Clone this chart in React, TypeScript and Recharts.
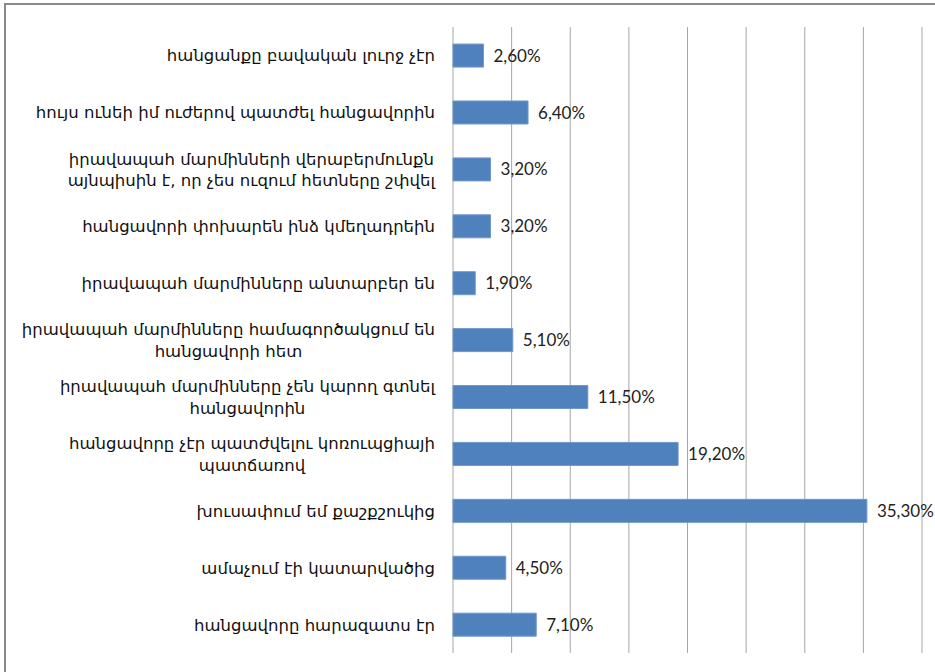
import { BarChart, Bar, XAxis, YAxis, CartesianGrid, LabelList } from 'recharts';

// reasons, top to bottom; "\n" marks where the original label wraps
const reasons = [
  'հանցանքը բավական լուրջ չէր',
  'հույս ունեի իմ ուժերով պատժել հանցավորին',
  'իրավապահ մարմինների վերաբերմունքն\nայնպիսին է, որ չես ուզում հետները շփվել',
  'հանցավորի փոխարեն ինձ կմեղադրեին',
  'իրավապահ մարմինները անտարբեր են',
  'իրավապահ մարմինները համագործակցում են\nհանցավորի հետ',
  'իրավապահ մարմինները չեն կարող գտնել\nհանցավորին',
  'հանցավորը չէր պատժվելու կոռուպցիայի\nպատճառով',
  'խուսափում եմ քաշքշուկից',
  'ամաչում էի կատարվածից',
  'հանցավորը հարազատս էր',
];

const shares = [2.6, 6.4, 3.2, 3.2, 1.9, 5.1, 11.5, 19.2, 35.3, 4.5, 7.1];

const xTicks = [0, 5, 10, 15, 20, 25, 30, 35, 40];
const boundaryTicks = [0, 1, 2, 3, 4, 5, 6, 7, 8, 9, 10, 11];

const data = reasons.map((name, i) => ({ name, value: shares[i] }));

const LABEL_SIZE = 16.5;
const LABEL_FAMILY = '"DejaVu Sans"';
let ctx: CanvasRenderingContext2D | null = null;
function textWidth(s: string) {
  if (!ctx) ctx = document.createElement('canvas').getContext('2d');
  if (!ctx) return s.length * 8;
  ctx.font = `${LABEL_SIZE}px ${LABEL_FAMILY}`;
  return ctx.measureText(s).width;
}

// right-aligned block, wrapped lines centred on each other (Excel style)
function ReasonTick(props: any) {
  const { x, y, payload } = props;
  const lines = String(payload.value).split('\n');
  const w = Math.max(...lines.map(textWidth));
  const cx = x - w / 2;
  const lh = 21.5;
  const y0 = y - ((lines.length - 1) * lh) / 2;
  return (
    <text
      textAnchor="middle"
      dominantBaseline="central"
      fontFamily={`${LABEL_FAMILY}, sans-serif`}
      fontSize={LABEL_SIZE}
      fill="#111"
    >
      {lines.map((l, i) => (
        <tspan key={i} x={cx} y={y0 + i * lh}>
          {l}
        </tspan>
      ))}
    </text>
  );
}

const fmt = (v: any) => `${Number(v).toFixed(2).replace('.', ',')}%`;

export default function App() {
  return (
    <div
      style={{
        position: 'absolute',
        left: 4,
        top: 3,
        width: 931,
        height: 669,
        boxSizing: 'border-box',
        borderLeft: '2px solid #8a8a8a',
        borderTop: '2px solid #8a8a8a',
        background: '#fff',
      }}
    >
      <BarChart
        width={929}
        height={667}
        data={data}
        layout="vertical"
        margin={{ top: 22, right: 13, bottom: 19, left: 0 }}
        barCategoryGap="30%"
      >
        <CartesianGrid horizontal={false} stroke="#a6a6a6" yAxisId="cat" />
        <XAxis
          type="number"
          domain={[0, 40]}
          ticks={xTicks}
          interval={0}
          height={0}
          tick={() => <g />}
          tickLine={false}
          axisLine={false}
        />
        <YAxis
          yAxisId="bounds"
          type="number"
          domain={[0, 11]}
          ticks={boundaryTicks}
          interval={0}
          width={0}
          tick={() => <g />}
          tickSize={5}
          stroke="#868686"
        />
        <YAxis
          yAxisId="cat"
          type="category"
          dataKey="name"
          width={447}
          interval={0}
          tickLine={false}
          axisLine={false}
          tickSize={0}
          tickMargin={18}
          tick={<ReasonTick />}
        />
        <Bar
          yAxisId="cat"
          dataKey="value"
          fill="#4f81bd"
          stroke="#7097cb"
          strokeWidth={1}
          isAnimationActive={false}
        >
          <LabelList
            dataKey="value"
            position="right"
            offset={10}
            formatter={fmt}
            fontFamily="Lato, sans-serif"
            fontSize={17}
            fill="#222"
          />
        </Bar>
      </BarChart>
    </div>
  );
}
